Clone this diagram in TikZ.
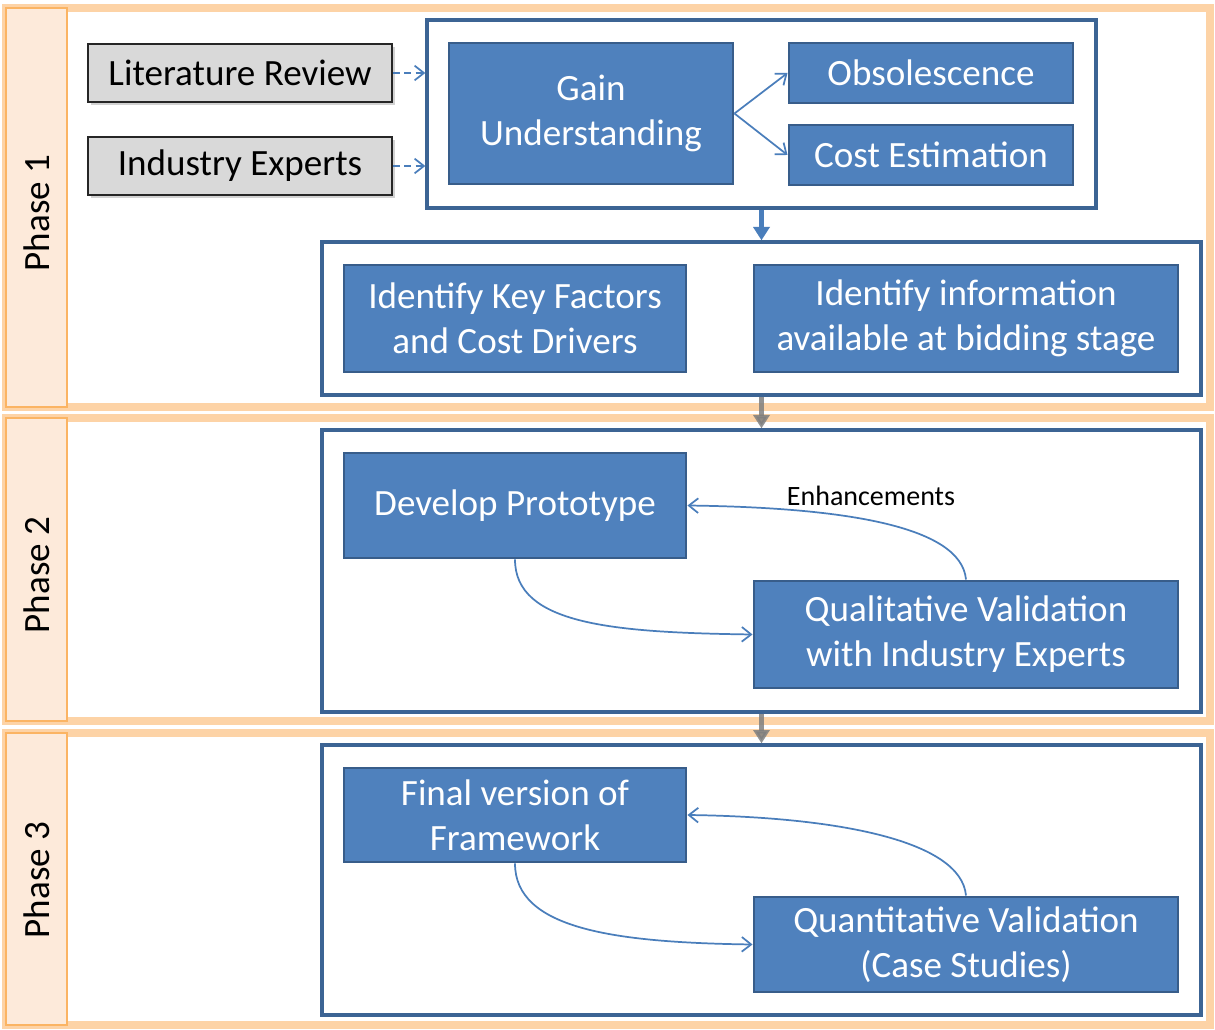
\documentclass[tikz,border=0pt]{standalone}
\usepackage{fontspec}
\setmainfont{Carlito}
\usetikzlibrary{arrows.meta,shadows}
\definecolor{boxblue}{HTML}{4F81BD}
\definecolor{boxline}{HTML}{385D8A}
\definecolor{panelline}{HTML}{3C6494}
\definecolor{orangeglow}{HTML}{FDD3A6}
\definecolor{orangeline}{HTML}{FBB463}
\definecolor{peach}{HTML}{FDEADA}
\definecolor{grayfill}{HTML}{D9D9D9}
\definecolor{arrowblue}{HTML}{4A7EBB}
\definecolor{arrowgray}{HTML}{7F7F7F}
\begin{document}
\begin{tikzpicture}[x=0.75pt,y=-0.75pt,
  mainfont/.style={font=\fontsize{27.8pt}{33.8pt}\selectfont},
  phaseband/.style={draw=orangeglow,line width=6pt,fill=white},
  phaselabel/.style={draw=orangeline,line width=2pt,fill=peach},
  phasetext/.style={mainfont,rotate=90,text=black},
  panel/.style={draw=panelline,line width=2.5pt,fill=white,inner sep=0pt},
  bluebox/.style={draw=boxline,line width=2.2pt,fill=boxblue,text=white,align=center,inner sep=2pt,mainfont},
  graybox/.style={draw=black!85,line width=1.4pt,fill=grayfill,text=black,align=center,mainfont,
     drop shadow={shadow xshift=2pt,shadow yshift=-2.5pt,opacity=0.35}},
  thinarrow/.style={draw=arrowblue,line width=1.3pt,-{Straight Barb[length=7pt,width=11pt,line width=1.3pt]}},
  dasharrow/.style={thinarrow,dashed,dash pattern=on 5pt off 3.5pt},
  thickarrow/.style={draw=arrowblue,line width=3.8pt,-{Triangle[length=10pt,width=12pt]}},
  grayarrow/.style={draw=arrowgray,opacity=0.85,line width=3.8pt,-{Triangle[length=10pt,width=12pt]}},
  enhlabel/.style={font=\fontsize{21pt}{25pt}\selectfont,text=black}
]
\useasboundingbox (0,0) rectangle (1215,1030);

% phase bands
\draw[phaseband] (6,8) rectangle (1210,407);
\draw[phaseband] (6,418) rectangle (1210,721);
\draw[phaseband] (6,733) rectangle (1210,1025);
\draw[phaselabel] (6,8) rectangle (67,407);
\draw[phaselabel] (6,418) rectangle (67,721);
\draw[phaselabel] (6,733) rectangle (67,1025);
\node[phasetext] (ph1) at (37,213) {Phase 1};
\node[phasetext] (ph2) at (37,575) {Phase 2};
\node[phasetext] (ph3) at (37,880) {Phase 3};

% panels
\node[panel,minimum width=669*0.75pt,minimum height=188*0.75pt] (toppanel) at (761.5,114) {};
\node[panel,minimum width=879*0.75pt,minimum height=153*0.75pt] (panel2) at (761.5,318.5) {};
\node[panel,minimum width=879*0.75pt,minimum height=282*0.75pt] (panel3) at (761.5,571) {};
\node[panel,minimum width=879*0.75pt,minimum height=270*0.75pt] (panel4) at (761.5,880) {};

% gray boxes
\node[graybox,minimum width=304*0.75pt,minimum height=58*0.75pt] (litrev) at (240,73) {Literature Review};
\node[graybox,minimum width=304*0.75pt,minimum height=58*0.75pt] (indexp) at (240,166) {Industry Experts};

% blue boxes
\node[bluebox,minimum width=284*0.75pt,minimum height=141*0.75pt] (gain) at (591,113.5) {Gain\\Understanding};
\node[bluebox,minimum width=284*0.75pt,minimum height=60*0.75pt] (obs) at (931,73) {Obsolescence};
\node[bluebox,minimum width=284*0.75pt,minimum height=60*0.75pt] (cost) at (931,155) {Cost Estimation};
\node[bluebox,minimum width=342*0.75pt,minimum height=107*0.75pt] (keyf) at (515,318.5) {Identify Key Factors\\and Cost Drivers};
\node[bluebox,minimum width=424*0.75pt,minimum height=107*0.75pt] (info) at (966,318.5) {Identify information\\available at bidding stage};
\node[bluebox,minimum width=342*0.75pt,minimum height=105*0.75pt] (proto) at (515,505.5) {Develop Prototype};
\node[bluebox,minimum width=424*0.75pt,minimum height=107*0.75pt] (qual) at (966,634.5) {Qualitative Validation\\with Industry Experts};
\node[bluebox,minimum width=342*0.75pt,minimum height=94*0.75pt] (final) at (515,815) {Final version of\\Framework};
\node[bluebox,minimum width=424*0.75pt,minimum height=95*0.75pt] (quant) at (966,944.5) {Quantitative Validation\\(Case Studies)};

% connectors
\draw[dasharrow] (litrev.east) -- (litrev.east -| toppanel.west);
\draw[dasharrow] (indexp.east) -- (indexp.east -| toppanel.west);
\draw[thinarrow] (gain.east) -- (obs.west);
\draw[thinarrow] (gain.east) -- (cost.west);
\draw[thickarrow] (toppanel.south) -- (panel2.north);
\draw[grayarrow] (panel2.south) -- (panel3.north);
\draw[grayarrow] (panel3.south) -- (panel4.north);

\draw[thinarrow] (proto.south) .. controls +(0,65) and +(-140,-2) .. (qual.west);
\draw[thinarrow] (qual.north) .. controls +(-5,-55) and +(150,2) .. (proto.east);
\node[enhlabel] (enh) at (871,496) {Enhancements};

\draw[thinarrow] (final.south) .. controls +(0,65) and +(-140,-2) .. (quant.west);
\draw[thinarrow] (quant.north) .. controls +(-5,-55) and +(150,2) .. (final.east);
\end{tikzpicture}
\end{document}
